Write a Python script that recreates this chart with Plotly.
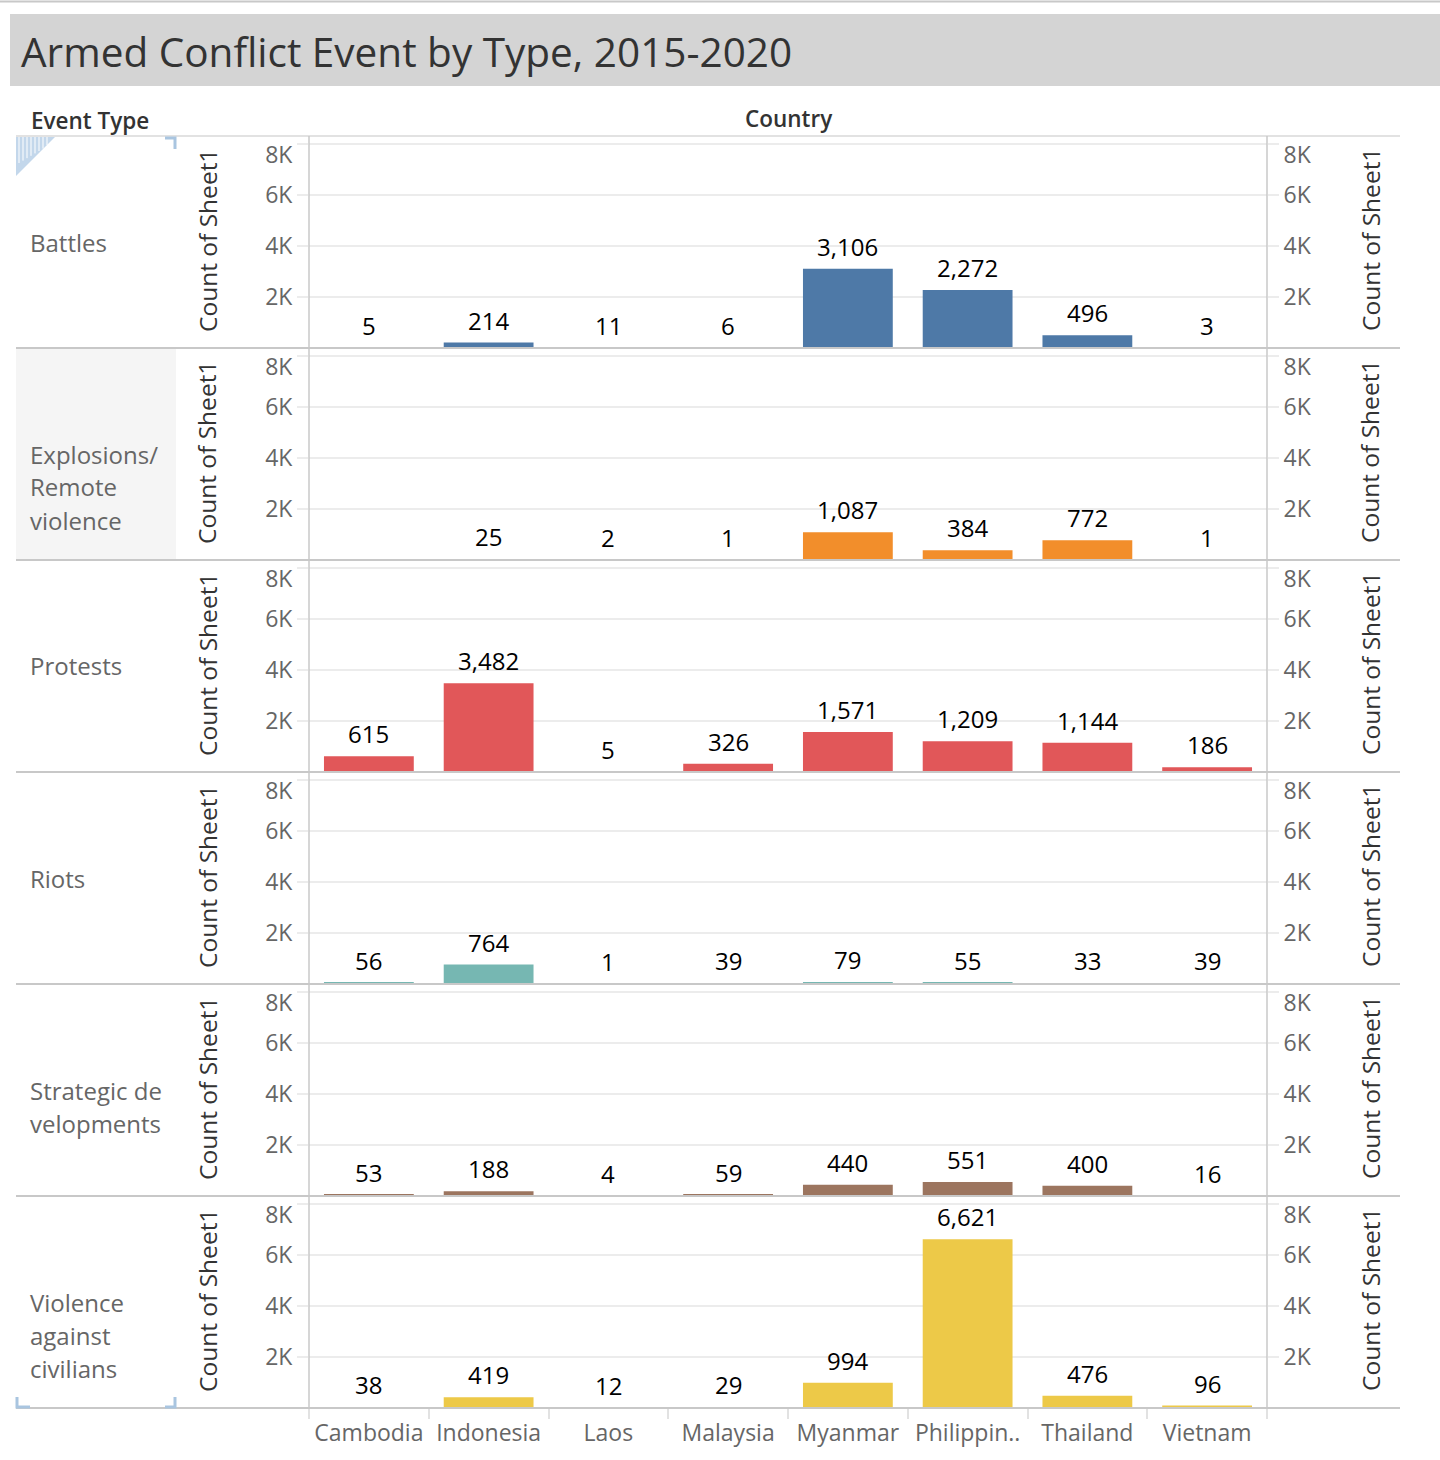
import plotly.graph_objects as go

# ---------------- data ----------------
countries = ["Cambodia", "Indonesia", "Laos", "Malaysia", "Myanmar", "Philippines", "Thailand", "Vietnam"]
country_labels = ["Cambodia", "Indonesia", "Laos", "Malaysia", "Myanmar", "Philippin..", "Thailand", "Vietnam"]
event_types = ["Battles", "Explosions/Remote violence", "Protests", "Riots",
               "Strategic developments", "Violence against civilians"]
row_label_lines = [["Battles"], ["Explosions/", "Remote", "violence"], ["Protests"], ["Riots"],
                   ["Strategic de", "velopments"], ["Violence", "against", "civilians"]]
battles = [5, 214, 11, 6, 3106, 2272, 496, 3]
explosions = [None, 25, 2, 1, 1087, 384, 772, 1]
protests = [615, 3482, 5, 326, 1571, 1209, 1144, 186]
riots = [56, 764, 1, 39, 79, 55, 33, 39]
strategic = [53, 188, 4, 59, 440, 551, 400, 16]
violence = [38, 419, 12, 29, 994, 6621, 476, 96]
series = [battles, explosions, protests, riots, strategic, violence]
colors = ["#4e79a7", "#f28e2b", "#e15759", "#76b7b2", "#9c755f", "#edc948"]
y_tickvals = [2000, 4000, 6000, 8000]
y_ticktext = ["2K", "4K", "6K", "8K"]
title_text = "Armed Conflict Event by Type, 2015-2020"
axis_title = "Count of Sheet1"

# ---------------- geometry ----------------
W, H = 1440, 1460
FONT = "Open Sans"
def px(x):
    return x / W
def py(y):
    return 1 - y / H

X0, X1 = 309, 1267
ROW_TOP, ROW_H = 136, 212
Y_MAX = 8314
GRID = "#ececec"
SEP = "#c8c8c8"
TICK_FONT = dict(family=FONT, size=23, color="#666666")

fig = go.Figure()
layout = dict(
    width=W, height=H, margin=dict(l=0, r=0, t=0, b=0, pad=0, autoexpand=False),
    paper_bgcolor="white", plot_bgcolor="white",
    showlegend=False, bargap=0.25,
    font=dict(family=FONT, size=22, color="#666666"),
)

shapes = []
annotations = []
n_rows = len(series)

for i, (vals, col) in enumerate(zip(series, colors)):
    n = i + 1
    xk = "x" if n == 1 else f"x{n}"
    yk = "y" if n == 1 else f"y{n}"
    # extra overlaid axes: right axis, and the shifted top ("8K") labels on both sides
    extra = {
        "right": 7 + i,
        "left_top": 13 + i,
        "right_top": 19 + i,
    }
    top = ROW_TOP + ROW_H * i
    bot = top + ROW_H
    fig.add_trace(go.Bar(
        x=countries, y=vals, xaxis=xk, yaxis=yk,
        marker=dict(color=col, line=dict(width=0)),
        name=event_types[i], hoverinfo="x+y",
    ))
    for k in extra.values():
        fig.add_trace(go.Scatter(
            x=countries, y=vals, xaxis=xk, yaxis=f"y{k}", mode="markers",
            marker=dict(opacity=0, size=1), hoverinfo="skip", showlegend=False,
        ))
    last = (i == n_rows - 1)
    layout["xaxis" if n == 1 else f"xaxis{n}"] = dict(
        domain=[px(X0), px(X1)], anchor=yk, type="category",
        categoryorder="array", categoryarray=countries,
        tickvals=countries, ticktext=country_labels,
        showticklabels=last, ticks="outside" if last else "",
        tickson="boundaries", ticklen=10, tickcolor="#e2e2e2", tickwidth=1.5,
        ticklabelstandoff=9,
        showgrid=False, showline=False, zeroline=False, automargin=False,
        tickfont=dict(family=FONT, size=23, color="#666666"),
        fixedrange=True,
    )
    base = dict(
        domain=[py(bot), py(top)], range=[0, Y_MAX], tickmode="array",
        zeroline=False, showline=False, automargin=False, fixedrange=True,
        tickfont=TICK_FONT, anchor=xk,
    )
    # main left axis: gridlines + ticks at all values, labels except the top one
    layout["yaxis" if n == 1 else f"yaxis{n}"] = dict(
        tickvals=y_tickvals, ticktext=y_ticktext[:-1] + [""],
        ticks="outside", ticklen=11, tickcolor=GRID, tickwidth=1.5,
        showgrid=True, gridcolor=GRID, gridwidth=1.5, **base)
    layout[f"yaxis{extra['right']}"] = dict(
        overlaying=yk, side="right",
        tickvals=y_tickvals, ticktext=y_ticktext[:-1] + [""],
        ticks="outside", ticklen=11, tickcolor=GRID, tickwidth=1.5,
        showgrid=False, **base)
    # top label, pushed down inside the pane
    for key, side in (("left_top", "left"), ("right_top", "right")):
        layout[f"yaxis{extra[key]}"] = dict(
            overlaying=yk, side=side,
            tickvals=y_tickvals[-1:], ticktext=y_ticktext[-1:],
            ticks="outside", ticklen=11, tickcolor="rgba(0,0,0,0)",
            ticklabelshift=11, showgrid=False, **base)

    # value labels
    for c, v in zip(countries, vals):
        if v is None:
            continue
        annotations.append(dict(
            x=c, y=v, xref=xk, yref=yk, text=f"{v:,}", showarrow=False,
            yanchor="bottom", yshift=4,
            font=dict(family=FONT, size=24, color="#000000"),
        ))

    # axis titles
    mid = (top + bot) / 2
    for xpos in (207, 1370):
        annotations.append(dict(
            x=px(xpos), y=py(mid - 2), xref="paper", yref="paper", text=axis_title,
            textangle=-90, showarrow=False, xanchor="center", yanchor="middle",
            font=dict(family=FONT, size=24.5, color="#333333"),
        ))
    # row header labels
    for j, line in enumerate(row_label_lines[i]):
        annotations.append(dict(
            x=px(28), y=py(mid + 33 * j), xref="paper", yref="paper", text=line,
            showarrow=False, xanchor="left", yanchor="middle",
            font=dict(family=FONT, size=24, color="#666666"),
        ))
    # row separator
    shapes.append(dict(type="line", xref="paper", yref="paper",
                       x0=px(16), x1=px(1400), y0=py(bot), y1=py(bot),
                       line=dict(color=SEP, width=2)))

# highlight of the hovered row header
shapes.insert(0, dict(type="rect", xref="paper", yref="paper", layer="below",
                      x0=px(16), x1=px(176), y0=py(559), y1=py(349),
                      fillcolor="#f5f5f5", line=dict(width=0)))
# top line
shapes.append(dict(type="line", xref="paper", yref="paper", x0=0, x1=1, y0=py(1.5), y1=py(1.5),
                   line=dict(color=SEP, width=2)))
# title band
shapes.append(dict(type="rect", xref="paper", yref="paper", layer="below",
                   x0=px(10), x1=1, y0=py(86), y1=py(14),
                   fillcolor="#d4d4d4", line=dict(width=0)))
# header bottom line
shapes.append(dict(type="line", xref="paper", yref="paper", x0=px(16), x1=px(1400),
                   y0=py(ROW_TOP), y1=py(ROW_TOP), line=dict(color="#d9d9d9", width=1.5)))
# pane vertical lines
for xv in (X0, X1):
    shapes.append(dict(type="line", xref="paper", yref="paper", x0=px(xv), x1=px(xv),
                       y0=py(ROW_TOP), y1=py(ROW_TOP + n_rows * ROW_H),
                       line=dict(color=SEP, width=1.5)))
# selection markers (light blue)
BLUE = "#a9c5e0"
shapes.append(dict(type="path", xref="paper", yref="paper",
                   path=f"M {px(16)},{py(137)} L {px(55)},{py(137)} L {px(16)},{py(176)} Z",
                   fillcolor="#c3d7eb", line=dict(width=0)))
for xs in range(19, 50, 4):
    yb = 137 + (55 - xs)
    shapes.append(dict(type="line", xref="paper", yref="paper", x0=px(xs), x1=px(xs),
                       y0=py(137), y1=py(min(yb, 137 + 26 - (xs - 19) * 0.6)),
                       line=dict(color="#ffffff", width=1)))
for pth in [
    [(165, 138), (175, 138), (175, 149)],
    [(17, 1397), (17, 1407), (30, 1407)],
    [(165, 1407), (175, 1407), (175, 1397)],
]:
    d = "M " + " L ".join(f"{px(a)},{py(b)}" for a, b in pth)
    shapes.append(dict(type="path", xref="paper", yref="paper", path=d,
                       line=dict(color=BLUE, width=3)))

# title and headers
annotations.append(dict(x=px(19), y=py(51), xref="paper", yref="paper", text=title_text,
                        showarrow=False, xanchor="left", yanchor="middle",
                        font=dict(family=FONT, size=40.5, color="#333333")))
annotations.append(dict(x=px(29), y=py(120), xref="paper", yref="paper", text="Event Type",
                        showarrow=False, xanchor="left", yanchor="middle",
                        font=dict(family=FONT, size=22.5, color="#333333", weight=600)))
annotations.append(dict(x=px(789), y=py(118), xref="paper", yref="paper", text="Country",
                        showarrow=False, xanchor="center", yanchor="middle",
                        font=dict(family=FONT, size=22.5, color="#333333", weight=600)))

layout["shapes"] = shapes
layout["annotations"] = annotations
fig.update_layout(**layout)

fig.write_html(
    "out.html",
    config={"displayModeBar": False},
    post_script="document.body.style.margin='0';document.body.style.overflow='hidden';",
)
